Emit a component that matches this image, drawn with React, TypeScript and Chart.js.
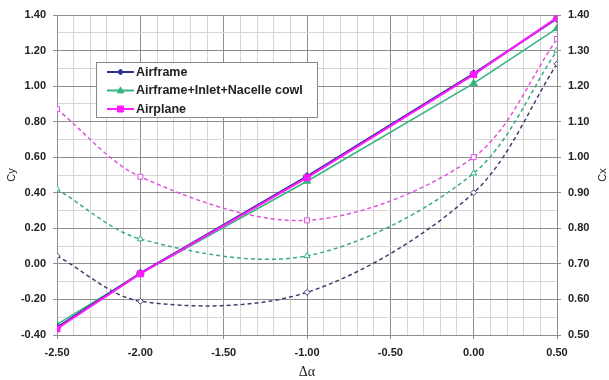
import React, { useEffect, useRef } from 'react';
import { Chart, registerables } from 'chart.js';

Chart.register(...registerables);

// ---- data ----
const alpha = [-2.5, -2.0, -1.0, 0.0, 0.5];
const seriesNames = ['Airframe', 'Airframe+Inlet+Nacelle cowl', 'Airplane'];
const cyAirframe = [-0.358, -0.052, 0.492, 1.07, 1.38];
const cyInlet = [-0.34, -0.055, 0.465, 1.015, 1.325];
const cyAirplane = [-0.365, -0.055, 0.485, 1.065, 1.385];
const cxAirframe = [0.7225, 0.595, 0.62, 0.9, 1.2625];
const cxInlet = [0.91, 0.77, 0.7225, 0.955, 1.3];
const cxAirplane = [1.135, 0.945, 0.8225, 1.0, 1.3325];
const xTitle = 'Δα';
const yLeftTitle = 'Cy';
const yRightTitle = 'Cx';

// ---- styles ----
const NAVY = '#2e3192';
const NAVY_D = '#3f3f6e';
const GREEN = '#36b47f';
const GREEN_D = '#3aa98a';
const MAGENTA = '#ff1aff';
const MAGENTA_D = '#e052e0';
const MAJOR = '#8e8e8e';
const MINOR = '#d6d6d6';
const TEXT = '#222222';
const FONT = "'Liberation Sans', Arial, sans-serif";

const pts = (ys: number[]) => alpha.map((x, i) => ({ x, y: ys[i] }));

function drawMarker(ctx: CanvasRenderingContext2D, style: string, x: number, y: number, r: number, fill: string, stroke: string) {
  ctx.save();
  ctx.beginPath();
  if (style === 'rect') {
    ctx.rect(x - r, y - r, 2 * r, 2 * r);
  } else if (style === 'triangle') {
    ctx.moveTo(x, y - r * 1.2);
    ctx.lineTo(x + r * 1.1, y + r * 0.8);
    ctx.lineTo(x - r * 1.1, y + r * 0.8);
    ctx.closePath();
  } else {
    ctx.moveTo(x, y - r * 1.2);
    ctx.lineTo(x + r * 1.2, y);
    ctx.lineTo(x, y + r * 1.2);
    ctx.lineTo(x - r * 1.2, y);
    ctx.closePath();
  }
  ctx.fillStyle = fill;
  ctx.fill();
  ctx.strokeStyle = stroke;
  ctx.lineWidth = 1;
  ctx.stroke();
  ctx.restore();
}

const decorPlugin = {
  id: 'decor',
  afterDraw(chart: any) {
    const ctx: CanvasRenderingContext2D = chart.ctx;
    // legend box
    const bx = 96, by = 62, bw = 221, bh = 55;
    ctx.save();
    ctx.fillStyle = '#ffffff';
    ctx.fillRect(bx, by, bw, bh);
    ctx.strokeStyle = '#8a8a8a';
    ctx.lineWidth = 1;
    ctx.strokeRect(bx + 0.5, by + 0.5, bw, bh);
    const items = [
      { name: seriesNames[0], color: NAVY, style: 'rectRot', r: 2.5 },
      { name: seriesNames[1], color: GREEN, style: 'triangle', r: 3 },
      { name: seriesNames[2], color: MAGENTA, style: 'rect', r: 3 },
    ];
    items.forEach((it, i) => {
      const y = by + 10 + i * 18.5;
      ctx.strokeStyle = it.color;
      ctx.lineWidth = 2;
      ctx.beginPath();
      ctx.moveTo(107, y);
      ctx.lineTo(134, y);
      ctx.stroke();
      drawMarker(ctx, it.style, 120.5, y, it.r, it.color, it.color);
      ctx.fillStyle = TEXT;
      ctx.font = `bold 12.5px ${FONT}`;
      ctx.textAlign = 'left';
      ctx.textBaseline = 'middle';
      ctx.fillText(it.name, 136, y + 0.5);
    });
    // right axis title
    const area = chart.chartArea;
    ctx.translate(603, (area.top + area.bottom) / 2);
    ctx.rotate(-Math.PI / 2);
    ctx.fillStyle = TEXT;
    ctx.font = `11px ${FONT}`;
    ctx.textAlign = 'center';
    ctx.textBaseline = 'middle';
    ctx.fillText(yRightTitle, 0, 0);
    ctx.restore();
  },
};

const fmt = (v: number) => (Math.round(v * 100) / 100 + 0).toFixed(2).replace('-0.00', '0.00');

export default function App() {
  const ref = useRef<HTMLCanvasElement | null>(null);

  useEffect(() => {
    if (!ref.current) return;
    const solid = (label: string, data: number[], color: string, style: string, r: number, w: number) => ({
      label,
      data: pts(data),
      yAxisID: 'y',
      showLine: true,
      borderColor: color,
      backgroundColor: color,
      borderWidth: w,
      pointStyle: style,
      pointRadius: r,
      pointBackgroundColor: color,
      pointBorderColor: color,
      tension: 0,
    });
    const dashed = (label: string, data: number[], color: string, style: string, r: number) => ({
      label,
      data: pts(data),
      yAxisID: 'y1',
      showLine: true,
      borderColor: color,
      backgroundColor: '#ffffff',
      borderWidth: 1.5,
      borderDash: [4, 3],
      pointStyle: style,
      pointRadius: r,
      pointBorderWidth: 1,
      pointBackgroundColor: 'rgba(255,255,255,0.9)',
      pointBorderColor: color,
      tension: 0.32,
    });

    const majorX = (v: number) => Math.round(v * 10) % 5 === 0;
    const majorY = (v: number) => Math.round(v * 10) % 2 === 0;

    const chart = new Chart(ref.current, {
      type: 'scatter',
      data: {
        datasets: [
          solid(seriesNames[2], cyAirplane, MAGENTA, 'rect', 3.5, 2),
          solid(seriesNames[0], cyAirframe, NAVY, 'rectRot', 3, 2),
          solid(seriesNames[1], cyInlet, GREEN, 'triangle', 3.5, 1.6),
          dashed(seriesNames[2], cxAirplane, MAGENTA_D, 'rect', 3.5),
          dashed(seriesNames[1], cxInlet, GREEN_D, 'triangle', 3.5),
          dashed(seriesNames[0], cxAirframe, NAVY_D, 'rectRot', 3),
        ] as any,
      },
      options: {
        animation: false,
        responsive: false,
        maintainAspectRatio: false,
        layout: { padding: { top: 15, left: 0, right: 0, bottom: 0 } },
        plugins: { legend: { display: false }, tooltip: { enabled: false } },
        scales: {
          x: {
            type: 'linear',
            min: -2.5,
            max: 0.5,
            afterFit: (s: any) => { s.height = 45; },
            ticks: {
              stepSize: 0.1,
              autoSkip: false,
              maxRotation: 0,
              padding: 7,
              color: TEXT,
              font: { family: FONT, size: 11, weight: 'bold' },
              callback: (v: any) => (majorX(Number(v)) ? fmt(Number(v)) : ''),
            },
            grid: {
              color: (c: any) => (c.tick && majorX(c.tick.value) ? MAJOR : MINOR),
              tickColor: (c: any) => (c.tick && majorX(c.tick.value) ? MAJOR : 'rgba(0,0,0,0)'),
              tickLength: 4,
              lineWidth: 1,
            },
            border: { color: MAJOR, width: 1 },
            title: {
              display: true,
              text: xTitle,
              color: TEXT,
              font: { family: "'Liberation Serif', 'Times New Roman', serif", size: 14 },
              padding: { top: 0, bottom: -1 },
            },
          },
          y: {
            type: 'linear',
            position: 'left',
            min: -0.4,
            max: 1.4,
            afterFit: (s: any) => { s.width = 57; },
            ticks: {
              stepSize: 0.1,
              autoSkip: false,
              padding: 7,
              color: TEXT,
              font: { family: FONT, size: 11, weight: 'bold' },
              callback: (v: any) => (majorY(Number(v)) ? fmt(Number(v)) : ''),
            },
            grid: {
              color: (c: any) => (c.tick && majorY(c.tick.value) ? MAJOR : MINOR),
              tickColor: (c: any) => (c.tick && majorY(c.tick.value) ? MAJOR : 'rgba(0,0,0,0)'),
              tickLength: 4,
              lineWidth: 1,
            },
            border: { color: MAJOR, width: 1 },
            title: {
              display: true,
              text: yLeftTitle,
              color: TEXT,
              font: { family: FONT, size: 11 },
              padding: { top: 5, bottom: 0 },
            },
          },
          y1: {
            type: 'linear',
            position: 'right',
            min: 0.5,
            max: 1.4,
            afterFit: (s: any) => { s.width = 52; },
            ticks: {
              stepSize: 0.1,
              autoSkip: false,
              padding: 7,
              color: TEXT,
              font: { family: FONT, size: 11, weight: 'bold' },
              callback: (v: any) => fmt(Number(v)),
            },
            grid: {
              drawOnChartArea: false,
              color: MAJOR,
              tickColor: MAJOR,
              tickLength: 4,
            },
            border: { color: MAJOR, width: 1 },
          },
        },
      } as any,
      plugins: [decorPlugin],
    });
    return () => chart.destroy();
  }, []);

  return (
    <div style={{ position: 'fixed', left: 0, top: 0, width: 609, height: 380, background: '#ffffff' }}>
      <canvas ref={ref} width={609} height={380} style={{ display: 'block', width: 609, height: 380 }} />
    </div>
  );
}
